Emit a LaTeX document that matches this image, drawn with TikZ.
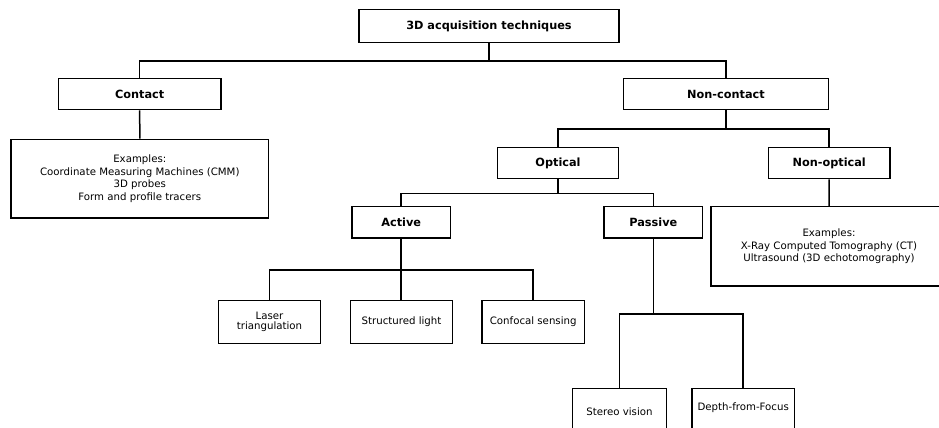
\documentclass[tikz,border=0pt]{standalone}
\usepackage{fontspec}
\setmainfont{DejaVu Sans}
\begin{document}
\begin{tikzpicture}[x=1pt,y=-1pt,
  box/.style={draw,line width=1.5pt,rectangle,inner sep=0pt,align=center,fill=white},
  hd/.style={box,font=\fontsize{11.3}{13}\selectfont\bfseries},
  tx/.style={box,font=\fontsize{10.2}{12.7}\selectfont},
  lab/.style={inner sep=0pt,font=\fontsize{10.2}{12.7}\selectfont},
  conn/.style={line width=1.5pt}]
\path[use as bounding box,fill=white] (0,0) rectangle (939,428);
\begin{scope}
\clip (0,0) rectangle (939,428);
% nodes
\node[hd,minimum width=260pt,minimum height=33.4pt] (top) at (489,26) {3D acquisition techniques};
\node[hd,minimum width=162.7pt,minimum height=31pt] (contact) at (139.7,94.2) {Contact};
\node[tx,minimum width=257.7pt,minimum height=78.7pt] (cex) at (139.8,178.7) {Examples:\\Coordinate Measuring Machines (CMM)\\3D probes\\Form and profile tracers};
\node[hd,minimum width=205.4pt,minimum height=31pt] (noncontact) at (726,94.2) {Non-contact};
\node[hd,minimum width=121.4pt,minimum height=31.4pt] (optical) at (558,163) {Optical};
\node[hd,minimum width=121.7pt,minimum height=31.4pt] (nonoptical) at (829.2,163) {Non-optical};
\node[tx,minimum width=236pt,minimum height=79.3pt] (nex) at (829,246.3) {Examples:\\X-Ray Computed Tomography (CT)\\Ultrasound (3D echotomography)};
\node[hd,minimum width=98.3pt,minimum height=31.3pt] (active) at (401.2,222.3) {Active};
\node[hd,minimum width=98.7pt,minimum height=31.3pt] (passive) at (653.3,222.3) {Passive};
\node[tx,minimum width=102.4pt,minimum height=43pt] (laser) at (269.5,321.8) {Laser\\[-3pt]triangulation};
\node[tx,minimum width=102.4pt,minimum height=43pt] (structured) at (401.5,321.8) {Structured light};
\node[tx,minimum width=102.3pt,minimum height=43pt] (confocal) at (533.2,321.8) {Confocal sensing};
\node[tx,minimum width=94.4pt,minimum height=47pt] (stereo) at (619.5,411.8) {};
\node[lab] (stereot) at (619.5,411.5) {Stereo vision};
\node[tx,minimum width=102.3pt,minimum height=47pt] (depth) at (743.2,411.8) {};
\node[lab] (deptht) at (743.2,408) {Depth-from-Focus};
% connectors
\draw[conn] (top.south) -- ++(0,17.4) -| (contact.north);
\draw[conn] (top.south) -- ++(0,17.4) -| (noncontact.north);
\draw[conn] (contact.south) -- (cex.north);
\draw[conn] (noncontact.south) -- ++(0,18.3) -| (optical.north);
\draw[conn] (noncontact.south) -- ++(0,18.3) -| (nonoptical.north);
\draw[conn] (nonoptical.south) -- (nex.north);
\draw[conn] (optical.south) -- ++(0,14) -| (active.north);
\draw[conn] (optical.south) -- ++(0,14) -| (passive.north);
\draw[conn] (active.south) -- ++(0,31.3) -| (laser.north);
\draw[conn] (active.south) -- ++(0,31.3) -| (confocal.north);
\draw[conn] (active.south) -- (active.south |- structured.north);
\draw[conn] (passive.south) -- ++(0,75.3) -| (stereo.north);
\draw[conn] (passive.south) -- ++(0,75.3) -| (depth.north);
\end{scope}
\end{tikzpicture}
\end{document}
